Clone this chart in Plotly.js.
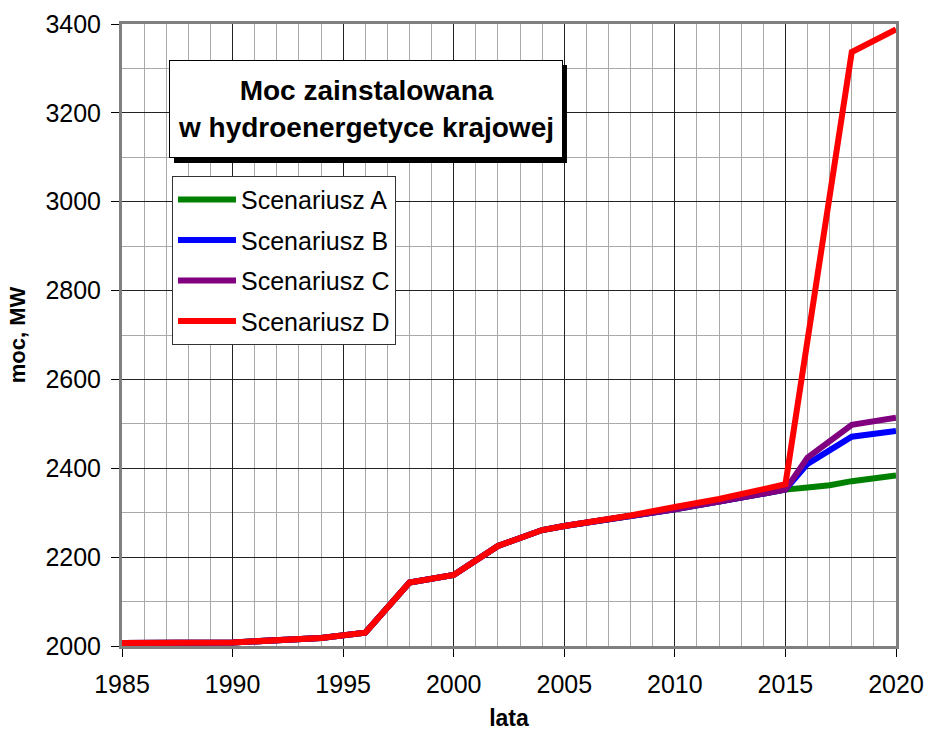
<!DOCTYPE html>
<html>
<head>
<meta charset="utf-8">
<script src="https://cdn.plot.ly/plotly-3.0.1.min.js"></script>
<style>
  body { margin: 0; background: #fff; }
  #chart { width: 927px; height: 731px; }
</style>
</head>
<body>
<div id="chart"></div>
<script>
// values (MW)
var yearsBase = [1985, 1990, 1994, 1996, 1998, 2000, 2002, 2004, 2005, 2006, 2008, 2010, 2012, 2015];
var powerBase = [2007, 2008, 2018, 2030, 2143, 2160, 2225, 2261, 2270, 2277, 2293, 2308, 2325, 2352];

var yearsA = [2016, 2017, 2018, 2019, 2020];
var powerA = [2357, 2362, 2371, 2376, 2384];

var yearsB = [2016, 2018, 2020];
var powerB = [2410, 2471, 2484];

var yearsC = [2016, 2018, 2020];
var powerC = [2424, 2498, 2514];

var yearsD = [1985, 1990, 1994, 1996, 1998, 2000, 2002, 2004, 2005, 2006, 2008, 2010, 2012, 2015, 2018, 2020];
var powerD = [2007, 2008, 2018, 2030, 2143, 2160, 2225, 2261, 2270, 2277, 2294, 2313, 2331, 2364, 3337, 3388];

var names = ["Scenariusz A", "Scenariusz B", "Scenariusz C", "Scenariusz D"];
var colors = ["#008000", "#0000ff", "#800080", "#ff0000"];

function line(i, xs, ys) {
  return {
    x: xs, y: ys, name: names[i], mode: "lines", legendgroup: "g" + i,
    line: {color: colors[i], width: 6}
  };
}

var data = [
  line(0, yearsBase.concat(yearsA), powerBase.concat(powerA)),
  line(1, yearsBase.concat(yearsB), powerBase.concat(powerB)),
  line(2, yearsBase.concat(yearsC), powerBase.concat(powerC)),
  line(3, yearsD, powerD)
];

var font = "Liberation Sans, Arial, sans-serif";

var layout = {
  width: 927, height: 731,
  margin: {l: 122, r: 31, t: 24, b: 85},
  paper_bgcolor: "#fff", plot_bgcolor: "#fff",
  font: {family: font, color: "#000", size: 25},
  showlegend: true,
  legend: {
    x: 0.0646, y: 0.756, xanchor: "left", yanchor: "top",
    bgcolor: "#fff", bordercolor: "#333", borderwidth: 1,
    font: {size: 25}, tracegroupgap: 5, traceorder: "grouped",
    itemwidth: 58
  },
  xaxis: {
    range: [1985, 2020], dtick: 5, tick0: 1985,
    showgrid: true, gridcolor: "#222", gridwidth: 1,
    minor: {dtick: 1, showgrid: true, gridcolor: "#aaa", gridwidth: 1},
    showline: true, linecolor: "#808080", linewidth: 3, mirror: true,
    ticks: "outside", ticklen: 8, tickcolor: "#000",
    ticklabelstandoff: 6, zeroline: false,
    title: {text: "<b>lata</b>", font: {size: 23}, standoff: 14}
  },
  yaxis: {
    range: [2000, 3400], dtick: 200, tick0: 2000,
    showgrid: true, gridcolor: "#222", gridwidth: 1,
    minor: {dtick: 100, showgrid: true, gridcolor: "#aaa", gridwidth: 1},
    showline: true, linecolor: "#808080", linewidth: 3, mirror: true,
    ticks: "outside", ticklen: 8, tickcolor: "#000",
    ticklabelstandoff: 5, zeroline: false,
    title: {text: "<b>moc, MW</b>", font: {size: 22}, standoff: 14}
  },
  shapes: [{
    // shadow of the title box
    type: "rect", xref: "paper", yref: "paper", layer: "above",
    x0: 0.0672, x1: 0.5749, y0: 0.7765, y1: 0.934,
    fillcolor: "#000", line: {width: 0}
  }],
  annotations: [{
    xref: "paper", yref: "paper", x: 0.3146, y: 0.8627,
    xanchor: "center", yanchor: "middle", showarrow: false,
    text: "<b>Moc zainstalowana<br>w hydroenergetyce krajowej</b>",
    font: {size: 28, family: font}, align: "center",
    bgcolor: "#fff", bordercolor: "#000", borderwidth: 1,
    width: 390, height: 94
  }]
};

Plotly.newPlot("chart", data, layout, {displayModeBar: false});
</script>
</body>
</html>
